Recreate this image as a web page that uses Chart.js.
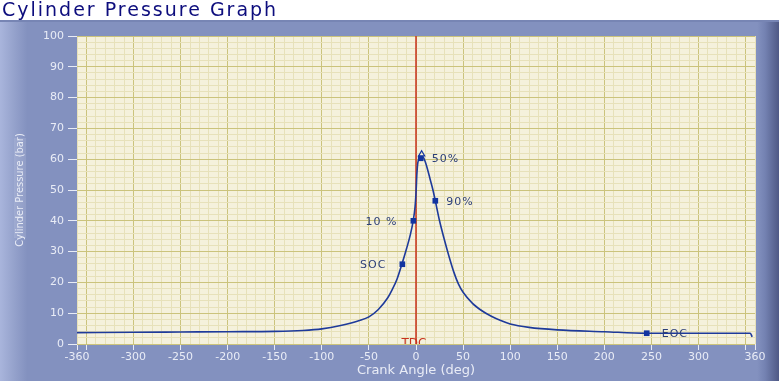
<!DOCTYPE html>
<html>
<head>
<meta charset="utf-8">
<title>Cylinder Pressure Graph</title>
<script src="https://cdn.jsdelivr.net/npm/chart.js@4/dist/chart.umd.min.js"></script>
<style>
  html, body { margin: 0; padding: 0; background: #fff; }
  canvas { display: block; }
</style>
</head>
<body>
<canvas id="pressureChart" width="779" height="381"></canvas>
<script>
// crank angle (deg) vs cylinder pressure (bar)
const crankAngles = [-360, -300, -250, -200, -150, -120, -100, -80, -60, -50, -40, -30, -25, -20, -15, -10, -6, -3, -1, 0,
  1, 2, 4, 6, 8, 10, 12, 15, 18, 20.5, 25, 30, 35, 40, 45, 50, 60, 70, 80, 90, 100, 120, 150, 200, 245, 300, 355, 357];
const pressures = [3.7, 3.8, 3.9, 4.0, 4.1, 4.4, 4.9, 6.0, 7.6, 8.8, 11.2, 15.0, 17.8, 21.2, 25.9, 31.0, 35.5, 40.0, 44.5, 49.0,
  55.5, 59.0, 60.3, 60.8, 60.5, 59.0, 57.0, 53.5, 50.0, 46.5, 40.0, 34.0, 28.5, 23.5, 19.5, 16.8, 13.2, 10.8, 9.0, 7.6, 6.5, 5.4, 4.6, 4.0, 3.5, 3.5, 3.5, 2.3];

// combustion markers
const markerNames = ['SOC', '10 %', '50%', '90%', 'EOC'];
const markerAngles = [-14.5, -2.8, 5, 20.5, 245];
const markerPressures = [25.9, 40.0, 60.3, 46.5, 3.5];

// peak pressure point
const peakAngle = [6];
const peakPressure = [61.6];

// TDC reference line
const tdcAngle = 0;
const tdcLabel = 'TDC';

// axis ranges / ticks
const xMin = -360, xMax = 360, xStep = 10, xLabelEvery = 50;
const yMin = 0, yMax = 100, yStep = 2, yLabelEvery = 10;

const chartTitle = 'Cylinder Pressure Graph';
const xTitle = 'Crank Angle (deg)';
const yTitle = 'Cylinder Pressure (bar)';

const PLOT_BG = '#f5f1dc';
const GRID_MINOR = '#e7e1ba';
const GRID_MAJOR = '#cbc37c';
const AXIS_TEXT = '#e9ecf6';
const CURVE = '#1e3a9a';

const curveData = crankAngles.map((a, i) => ({ x: a, y: pressures[i] }));
const markerData = markerAngles.map((a, i) => ({ x: a, y: markerPressures[i] }));
const peakData = peakAngle.map((a, i) => ({ x: a, y: peakPressure[i] }));

function showXLabel(v) {
  return Math.abs(v) === 360 || (v % xLabelEvery === 0 && Math.abs(v) !== 350);
}

const panelPlugin = {
  id: 'panel',
  beforeDraw(chart) {
    const { ctx, width, height, chartArea: a } = chart;
    ctx.save();
    ctx.fillStyle = '#ffffff';
    ctx.fillRect(0, 0, width, height);

    // blue-grey panel with lighter left edge and darker right edge
    const g = ctx.createLinearGradient(0, 0, width, 0);
    g.addColorStop(0, '#a9b5dc');
    g.addColorStop(0.018, '#95a2cc');
    g.addColorStop(0.035, '#8391bf');
    g.addColorStop(0.972, '#8391bf');
    g.addColorStop(0.982, '#7482b2');
    g.addColorStop(1, '#4f5985');
    ctx.fillStyle = g;
    ctx.fillRect(0, 20, width, height - 20);
    ctx.fillStyle = '#7785b4';
    ctx.fillRect(0, 20, width, 2);

    // light box behind the y title
    ctx.fillStyle = 'rgba(255,255,255,0.10)';
    ctx.fillRect(14, 138, 12, 100);

    ctx.fillStyle = PLOT_BG;
    ctx.fillRect(a.left, a.top, a.right - a.left, a.bottom - a.top);

    // chart title
    ctx.font = '19px "DejaVu Sans", Verdana, sans-serif';
    ctx.letterSpacing = '2px';
    ctx.fillStyle = '#0d0d7d';
    ctx.textBaseline = 'alphabetic';
    ctx.fillText(chartTitle, 2, 16);
    ctx.restore();
  },
  afterDatasetsDraw(chart) {
    const { ctx, chartArea: a, scales } = chart;
    ctx.save();
    // TDC label, cut by the bottom of the plot
    ctx.beginPath();
    ctx.rect(a.left, a.top, a.right - a.left, a.bottom - a.top);
    ctx.clip();
    ctx.font = '12px "DejaVu Sans", Verdana, sans-serif';
    ctx.fillStyle = '#c8321e';
    ctx.textAlign = 'center';
    ctx.textBaseline = 'top';
    ctx.fillText(tdcLabel, scales.x.getPixelForValue(tdcAngle) - 2, a.bottom - 6);
    ctx.restore();

    // marker labels
    ctx.save();
    ctx.font = '11px "DejaVu Sans", Verdana, sans-serif';
    ctx.letterSpacing = '1px';
    ctx.fillStyle = '#2c3f78';
    ctx.textBaseline = 'middle';
    const meta = chart.getDatasetMeta(2);
    meta.data.forEach((pt, i) => {
      const left = markerAngles[i] < 0;
      ctx.textAlign = left ? 'right' : 'left';
      const dx = left ? -16 : (markerAngles[i] > 100 ? 15 : 11);
      ctx.fillText(markerNames[i], pt.x + dx, pt.y + 1);
    });
    ctx.restore();
  }
};

new Chart(document.getElementById('pressureChart'), {
  type: 'line',
  data: {
    datasets: [
      {
        label: 'TDC',
        data: [{ x: tdcAngle, y: yMin }, { x: tdcAngle, y: yMax }],
        borderColor: '#c8321e',
        borderWidth: 1.5,
        pointRadius: 0,
        order: 3
      },
      {
        label: 'Pressure',
        data: curveData,
        borderColor: CURVE,
        borderWidth: 1.6,
        pointRadius: 0,
        cubicInterpolationMode: 'monotone',
        order: 2
      },
      {
        label: 'Markers',
        data: markerData,
        showLine: false,
        pointStyle: 'rect',
        pointRadius: 4,
        backgroundColor: '#1234a0',
        borderColor: '#1234a0',
        borderWidth: 0,
        order: 1
      },
      {
        label: 'Peak',
        data: peakData,
        showLine: false,
        pointStyle: 'triangle',
        pointRadius: 3.5,
        backgroundColor: 'rgba(0,0,0,0)',
        borderColor: '#1234a0',
        borderWidth: 1.2,
        order: 0
      }
    ]
  },
  options: {
    responsive: false,
    animation: false,
    devicePixelRatio: 1,
    layout: { padding: { top: 36, right: 24, bottom: 0, left: 0 } },
    plugins: {
      legend: { display: false },
      tooltip: { enabled: false },
      title: { display: false }
    },
    scales: {
      x: {
        type: 'linear',
        min: xMin,
        max: xMax,
        afterFit: s => { s.height = 37; },
        border: { display: false },
        grid: {
          color: c => (c.tick && c.tick.value % xLabelEvery === 0) ? GRID_MAJOR : GRID_MINOR,
          lineWidth: 1,
          drawTicks: true,
          tickLength: 6,
          tickColor: c => (c.tick && (c.tick.value % xLabelEvery === 0 || Math.abs(c.tick.value) >= 350)) ? AXIS_TEXT : 'rgba(0,0,0,0)'
        },
        ticks: {
          stepSize: xStep,
          autoSkip: false,
          maxRotation: 0,
          padding: 1,
          color: AXIS_TEXT,
          font: { family: '"DejaVu Sans", Verdana, sans-serif', size: 11 },
          callback: v => showXLabel(v) ? String(v) : ''
        },
        title: {
          display: true,
          text: xTitle,
          color: AXIS_TEXT,
          font: { family: '"DejaVu Sans", Verdana, sans-serif', size: 13 },
          padding: { top: 0, bottom: 3 }
        }
      },
      y: {
        type: 'linear',
        min: yMin,
        max: yMax,
        afterFit: s => { s.width = 77; },
        border: { display: false },
        grid: {
          color: c => (c.tick && c.tick.value % yLabelEvery === 0) ? GRID_MAJOR : GRID_MINOR,
          lineWidth: 1,
          drawTicks: true,
          tickLength: 9,
          tickColor: c => (c.tick && c.tick.value % yLabelEvery === 0) ? AXIS_TEXT : 'rgba(0,0,0,0)'
        },
        ticks: {
          stepSize: yStep,
          autoSkip: false,
          padding: 4,
          color: AXIS_TEXT,
          font: { family: '"DejaVu Sans", Verdana, sans-serif', size: 11 },
          callback: v => (v % yLabelEvery === 0) ? String(v) : ''
        },
        title: {
          display: true,
          text: yTitle,
          color: AXIS_TEXT,
          font: { family: '"Liberation Sans Narrow", "DejaVu Sans Condensed", sans-serif', size: 11 },
          padding: { top: 14, bottom: 0 }
        }
      }
    }
  },
  plugins: [panelPlugin]
});
</script>
</body>
</html>
